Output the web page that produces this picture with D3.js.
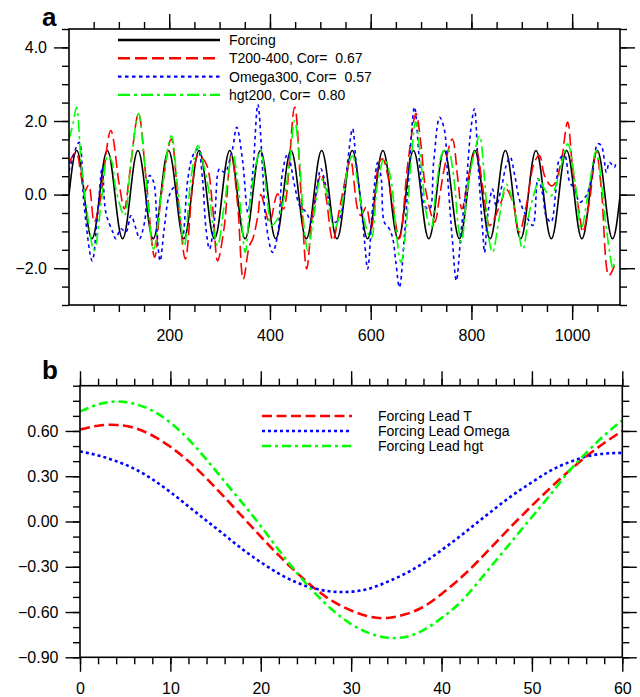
<!DOCTYPE html>
<html>
<head>
<meta charset="utf-8">
<script src="https://cdn.jsdelivr.net/npm/d3@7"></script>
<style>
  body { margin: 0; background: #fff; }
  text { font-family: "Liberation Sans", Arial, Helvetica, sans-serif; }
</style>
</head>
<body>
<svg width="640" height="697"></svg>
<script>
// ---- panel a data (day, value) ----
var forcingStart = 1, forcingStep = 7.6;   // 8 samples per ~60.8 day cycle
var forcing = [
  0,0.85,1.2,0.85,0,-0.85,-1.2,-0.85, 0,0.85,1.2,0.85,0,-0.85,-1.2,-0.85,
  0,0.85,1.2,0.85,0,-0.85,-1.2,-0.85, 0,0.85,1.2,0.85,0,-0.85,-1.2,-0.85,
  0,0.85,1.2,0.85,0,-0.85,-1.2,-0.85, 0,0.85,1.2,0.85,0,-0.85,-1.2,-0.85,
  0,0.85,1.2,0.85,0,-0.85,-1.2,-0.85, 0,0.85,1.2,0.85,0,-0.85,-1.2,-0.85,
  0,0.85,1.2,0.85,0,-0.85,-1.2,-0.85, 0,0.85,1.2,0.85,0,-0.85,-1.2,-0.85,
  0,0.85,1.2,0.85,0,-0.85,-1.2,-0.85, 0,0.85,1.2,0.85,0,-0.85,-1.2,-0.85,
  0,0.85,1.2,0.85,0,-0.85,-1.2,-0.85, 0,0.85,1.2,0.85,0,-0.85,-1.2,-0.85,
  0,0.85,1.2,0.85,0,-0.85,-1.2,-0.85, 0,0.85,1.2,0.85,0,-0.85,-1.2,-0.85,
  0,0.85,1.2,0.85,0,-0.85,-1.2,-0.85, 0,0.85,1.2,0.85,0,-0.85,-1.2,-0.85,
  0
];

var t200 = [[1,0.85],[15,1.15],[25,0.52],[31,0.06],[40,0.26],[51,-0.75],[61,-0.3],[84,1.74],
  [101,0.25],[111,-0.39],[121,0.52],[139,2.2],[154,0.43],[171,-1.7],[184,-0.03],[204,1.51],
  [217,-0.03],[232,-1.75],[247,0.34],[257,1.06],[273,0.85],[286,-0.3],[296,-1.8],[309,-0.9],
  [323,1.1],[336,-0.3],[347,-2.3],[359,-1.4],[366,-1.2],[376,-0.57],[382,0.0],[399,-0.75],
  [415,0.02],[427,-0.39],[449,2.38],[462,-0.03],[473,-2.02],[485,-0.48],[502,0.56],[511,-0.03],
  [525,-1.25],[538,-0.4],[551,0.5],[560,0.95],[574,-0.39],[581,-0.57],[591,-0.34],[601,-0.93],
  [617,0.88],[624,0.97],[634,0.52],[644,-0.3],[657,-1.2],[674,0.88],[690,2.2],[700,1.33],
  [710,0.06],[727,-0.75],[737,-0.03],[746,0.7],[762,1.51],[773,0.43],[781,-0.39],[796,0.61],
  [809,1.24],[823,0.15],[836,-0.84],[842,-0.75],[859,-0.2],[869,0.15],[882,-0.2],[895,-1.02],
  [909,-0.3],[925,0.88],[935,1.06],[945,0.52],[958,0.24],[965,0.29],[978,0.88],[991,1.97],
  [1001,0.7],[1015,-0.57],[1021,-1.02],[1034,-0.21],[1048,1.15],[1058,0.15],[1073,-2.2],[1084,-1.93]];

var omega300 = [[1,0.65],[21,1.42],[31,-0.3],[47,-1.8],[58,-0.48],[67,0.74],[74,-0.48],[88,-1.02],
  [94,-1.2],[104,-0.93],[114,-1.02],[124,-0.57],[134,-0.93],[141,-1.2],[151,-0.75],[161,0.52],
  [169,0.34],[177,-1.3],[182,-1.8],[190,-0.93],[200,-0.03],[210,0.2],[220,-0.48],[227,-1.12],
  [237,0.43],[247,1.06],[257,1.24],[266,0.43],[273,-0.93],[280,-1.48],[290,-0.66],[300,0.7],
  [310,0.6],[325,1.2],[334,1.83],[346,0.88],[356,-0.48],[366,0.61],[376,2.45],[386,0.52],
  [392,-0.75],[405,-1.57],[415,-1.12],[425,0.61],[435,1.1],[449,0.24],[459,-0.3],[472,-0.48],
  [482,-0.75],[492,0.06],[501,0.7],[511,0.24],[528,-0.75],[538,-0.66],[551,0.52],[564,1.79],
  [571,0.88],[581,-0.3],[588,-1.3],[594,-2.02],[604,-0.3],[614,0.88],[621,0.43],[627,-0.75],
  [637,-0.93],[644,-1.2],[650,-1.84],[657,-2.52],[667,-1.12],[677,0.88],[687,2.38],[697,0.88],
  [707,-0.3],[717,-0.39],[725,0.88],[737,2.1],[746,1.79],[753,0.43],[762,-1.2],[770,-2.34],
  [780,-0.93],[789,0.15],[799,1.79],[806,2.33],[813,0.88],[823,-1.12],[826,-1.57],[833,-0.48],
  [842,0.15],[849,-0.3],[859,0.15],[869,0.79],[877,1.02],[886,0.52],[895,-0.12],[905,-0.48],
  [912,-0.66],[922,-0.84],[932,0.43],[942,-0.03],[948,-0.57],[958,-0.75],[968,0.15],[975,0.97],
  [985,1.06],[995,0.34],[1005,0.15],[1015,-0.21],[1028,-0.03],[1038,0.43],[1051,1.38],[1058,1.33],
  [1068,0.61],[1074,0.88],[1084,0.74],[1087,0.88]];

var hgt200 = [[1,1.5],[9,1.93],[16,2.37],[25,0.88],[35,-0.3],[51,-1.52],[65,-0.21],[78,1.06],
  [86,0.9],[94,0.15],[111,-0.57],[124,0.88],[139,2.2],[151,0.88],[169,-1.48],[184,-0.03],
  [204,1.6],[217,0.15],[230,-1.39],[243,0.43],[257,1.33],[270,0.7],[280,-0.03],[286,-0.75],
  [296,-1.39],[310,-0.21],[326,1.1],[339,-0.03],[351,-1.57],[362,-0.03],[381,1.2],[396,-0.3],
  [402,-0.84],[415,-0.66],[429,-0.03],[439,0.88],[449,2.01],[459,0.88],[468,-0.93],[475,-1.52],
  [488,-0.48],[501,0.43],[511,0.15],[528,-0.93],[545,-0.12],[556,0.85],[564,1.05],[574,0.34],
  [588,-0.75],[601,-1.2],[614,0.34],[627,0.97],[640,0.43],[650,-0.93],[660,-1.84],[670,-0.93],
  [680,0.88],[689,1.97],[700,0.88],[710,-0.48],[720,-0.93],[730,0.15],[743,1.15],[753,1.24],
  [766,0.34],[773,-0.75],[780,-1.3],[793,0.24],[806,1.15],[816,1.6],[826,0.43],[836,-1.3],
  [842,-1.57],[856,-0.57],[869,0.29],[879,-0.03],[889,-0.66],[902,-1.48],[915,-0.48],[929,0.24],
  [935,0.43],[945,0.15],[958,-0.03],[972,0.43],[991,1.38],[1005,0.43],[1018,-0.93],[1031,-0.03],
  [1048,1.2],[1058,0.34],[1068,-0.93],[1081,-2.02],[1084,-1.75]];

var legendA = ["Forcing", "T200-400, Cor=  0.67", "Omega300, Cor=  0.57", "hgt200, Cor=  0.80"];
var aXTicks = [200, 400, 600, 800, 1000];
var aYTicks = [-2, 0, 2, 4];

// ---- panel b data: lag correlation ----
var lags  = [0,2,4,6,8,10,12,14,16,18,20,22,24,26,28,30,32,34,36,38,40,42,44,46,48,50,52,54,56,58,60];
var leadT = [0.61,0.635,0.64,0.62,0.57,0.495,0.40,0.285,0.16,0.03,-0.10,-0.225,-0.34,-0.445,-0.53,-0.59,
             -0.63,-0.64,-0.615,-0.565,-0.48,-0.38,-0.265,-0.14,-0.015,0.105,0.22,0.33,0.43,0.52,0.60];
var leadOmega = [0.464,0.438,0.40,0.35,0.28,0.195,0.10,0.005,-0.09,-0.185,-0.27,-0.345,-0.405,-0.445,-0.465,-0.465,
             -0.445,-0.40,-0.345,-0.275,-0.19,-0.10,-0.005,0.09,0.18,0.26,0.335,0.39,0.43,0.45,0.455];
var leadHgt = [0.73,0.775,0.795,0.78,0.735,0.655,0.545,0.41,0.265,0.12,-0.03,-0.19,-0.34,-0.475,-0.59,-0.68,
             -0.74,-0.77,-0.765,-0.72,-0.64,-0.54,-0.405,-0.26,-0.115,0.03,0.175,0.325,0.455,0.57,0.67];
var legendB = ["Forcing Lead T", "Forcing Lead Omega", "Forcing Lead hgt"];
var bXTicks = [0, 10, 20, 30, 40, 50, 60];
var bYTicks = [-0.9, -0.6, -0.3, 0, 0.3, 0.6];

var colors = ["#000000", "#ff0000", "#0000ff", "#00ff00"];
var dashA = [null, "12,5", "3.5,3.5", "12,4,3,4"];
var dashB = ["10,4.5", "3,3", "9,4,3,4"];

var svg = d3.select("svg");

// box with outward ticks on all four sides, labels only left and bottom
function drawAxes(x, y, xMajor, xMinor, yMajor, yMinor, xFmt, yFmt, maj, mnr, xPad, yPad) {
  var x0 = x.range()[0], x1 = x.range()[1], y0 = y.range()[0], y1 = y.range()[1];
  var sets = [
    [d3.axisBottom(x), "translate(0," + y0 + ")", xMajor, xMinor, xFmt, xPad],
    [d3.axisTop(x), "translate(0," + y1 + ")", xMajor, xMinor, null, 0],
    [d3.axisLeft(y), "translate(" + x0 + ",0)", yMajor, yMinor, yFmt, yPad],
    [d3.axisRight(y), "translate(" + x1 + ",0)", yMajor, yMinor, null, 0]
  ];
  sets.forEach(function(s) {
    var g = svg.append("g").attr("transform", s[1]);
    g.append("g").call(s[0].tickValues(s[3]).tickSize(mnr).tickFormat(""));
    var gm = g.append("g").call(s[0].tickValues(s[2]).tickSize(maj).tickPadding(s[5])
      .tickFormat(s[4] ? s[4] : ""));
    g.selectAll(".domain").remove();
    g.selectAll("line").attr("stroke", "#000").attr("stroke-width", 1.4);
    gm.selectAll("text").attr("font-size", 16).attr("fill", "#000")
      .style("font-family", '"Liberation Sans", Arial, Helvetica, sans-serif');
  });
  svg.append("rect").attr("x", x0).attr("y", y1).attr("width", x1 - x0).attr("height", y0 - y1)
    .attr("fill", "none").attr("stroke", "#000").attr("stroke-width", 1.6);
}

// ================= panel a =================
var xa = d3.scaleLinear().domain([1, 1095]).range([69, 620]);
var ya = d3.scaleLinear().domain([-3, 4.5]).range([305, 29]);

svg.append("clipPath").attr("id", "clipA").append("rect")
  .attr("x", 69).attr("y", 29).attr("width", 551).attr("height", 276);

var lineA = d3.line().x(function(d) { return xa(d[0]); }).y(function(d) { return ya(d[1]); });
var forcingPts = forcing.map(function(v, i) { return [forcingStart + i * forcingStep, v]; });
var seriesA = [forcingPts, t200, omega300, hgt200];

var gA = svg.append("g").attr("clip-path", "url(#clipA)");
seriesA.forEach(function(s, i) {
  gA.append("path").datum(s)
    .attr("d", lineA.curve(i == 0 ? d3.curveNatural : d3.curveCatmullRom.alpha(0.5)))
    .attr("fill", "none").attr("stroke", colors[i]).attr("stroke-width", 1.6)
    .attr("stroke-dasharray", dashA[i]);
});

drawAxes(xa, ya, aXTicks, d3.range(50, 1095, 50), aYTicks, d3.range(-3, 4.51, 0.5),
  d3.format("d"), d3.format(".1f"), 15, 7, 9.5, 7);

// legend a
legendA.forEach(function(t, i) {
  var yy = 40 + i * 18.3;
  svg.append("line").attr("x1", 118).attr("x2", 220).attr("y1", yy).attr("y2", yy)
    .attr("stroke", colors[i]).attr("stroke-width", 2.4).attr("stroke-dasharray", dashA[i]);
  svg.append("text").attr("x", 229).attr("y", yy + 5).attr("font-size", 14)
    .style("white-space", "pre").text(t);
});

svg.append("text").attr("x", 42).attr("y", 26).attr("font-size", 26)
  .attr("font-weight", "bold").text("a");

// ================= panel b =================
var xb = d3.scaleLinear().domain([0, 60]).range([80, 622.3]);
var yb = d3.scaleLinear().domain([-0.9, 0.9]).range([657.3, 385.7]);

var lineB = d3.line().x(function(d, i) { return xb(lags[i]); }).y(function(d) { return yb(d); })
  .curve(d3.curveNatural);

[leadT, leadOmega, leadHgt].forEach(function(s, i) {
  svg.append("path").datum(s).attr("d", lineB)
    .attr("fill", "none").attr("stroke", colors[i + 1]).attr("stroke-width", 2.6)
    .attr("stroke-dasharray", dashB[i]);
});

drawAxes(xb, yb, bXTicks, d3.range(0, 61, 2), bYTicks, d3.range(-0.9, 0.91, 0.1),
  d3.format("d"), d3.format(".2f"), 14.5, 7, 11, 7);

legendB.forEach(function(t, i) {
  var yy = 416 + i * 15;
  svg.append("line").attr("x1", 262).attr("x2", 352).attr("y1", yy).attr("y2", yy)
    .attr("stroke", colors[i + 1]).attr("stroke-width", 2.6).attr("stroke-dasharray", dashB[i]);
  svg.append("text").attr("x", 378).attr("y", yy + 4.5).attr("font-size", 14).text(t);
});

svg.append("text").attr("x", 42).attr("y", 379).attr("font-size", 26)
  .attr("font-weight", "bold").text("b");
</script>
</body>
</html>
